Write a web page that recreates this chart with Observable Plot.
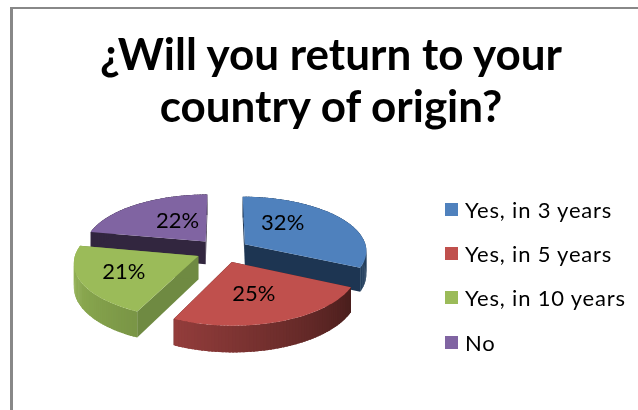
<!DOCTYPE html>
<html>
<head>
<meta charset="utf-8">
<script src="https://cdn.jsdelivr.net/npm/d3@7"></script>
<script src="https://cdn.jsdelivr.net/npm/@observablehq/plot@0.6"></script>
<style>
html,body{margin:0;padding:0;background:#fff;overflow:hidden}
#page{position:relative;width:638px;height:410px;overflow:hidden;font-family:Lato,"Open Sans",sans-serif;color:#000;filter:blur(.45px)}
#frame{position:absolute;left:10px;top:7px;right:-5px;bottom:-5px;border-left:3px solid #888;border-top:2px solid #888}
#title{position:absolute;left:12px;width:638px;top:27px;text-align:center;font-weight:700;font-size:44px;line-height:52px;margin:0}
#chart{position:absolute;left:0;top:150px}
#legend{position:absolute;left:445px;top:187px}
.row{display:flex;align-items:center;height:44.4px;font-size:22px;white-space:nowrap;letter-spacing:.8px}
.sw{width:13px;height:13px;margin-right:7px;flex:none}
</style>
</head>
<body>
<div id="page">
  <div id="frame"></div>
  <h1 id="title"></h1>
  <div id="chart"></div>
  <div id="legend"></div>
</div>
<script>
const titleLines = ["¿Will you return to your", "country of origin?"];
const categories = ["Yes, in 3 years", "Yes, in 5 years", "Yes, in 10 years", "No"];
const values = [32, 25, 21, 22];
const topColors = ["#4f81bd", "#c0504d", "#9bbb59", "#8064a2"];
const wallColors = ["#1d3552", "#4c1f1e", "#6f8a42", "#32263f"];
const rimFrom = ["#1d3552", "#4a1e1d", "#7a9646", "#32263f"];
const rimTo = ["#24405f", "#953e3c", "#9bbb59", "#32263f"];
const paintOrder = [3, 0, 2, 1];

// layout of the tilted, exploded pie
const W = 638, H = 230, cx = 222, cy = 100, rx = 122, ry = 54;
const explode = 0.22, persp = 0.11, depth = 0.43;
const labelOffset = [[0.31, 0.39], [0.18, -0.6], [-0.61, -0.3], [-0.23, 0.39]];

const arcs = d3.pie().sort(null)(values);
const proj = (X, Y, low) => {
  const s = 1 / (1 + persp * Y);
  return {x: X * s, y: (Y - (low ? depth : 0)) * s};
};
const rows = [];
const poly = (id, fill, pts) => pts.forEach(p => rows.push({id, fill, x: p.x, y: p.y}));
const labels = [];

for (const i of paintOrder) {
  const {startAngle: a0, endAngle: a1} = arcs[i];
  const mid = (a0 + a1) / 2;
  const ax = explode * Math.sin(mid), ay = explode * Math.cos(mid);
  const rim = (a, low) => proj(ax + Math.sin(a), ay + Math.cos(a), low);
  const n = Math.ceil((a1 - a0) * 40);
  const angle = k => a0 + (a1 - a0) * k / n;
  // radial walls
  [a0, a1].forEach((a, j) => poly(`w${i}${j}`, wallColors[i],
    [proj(ax, ay, false), rim(a, false), rim(a, true), proj(ax, ay, true)]));
  // outer wall, shaded step by step; each step overlaps the next so no seams show
  const shade = d3.interpolateRgb(rimFrom[i], rimTo[i]);
  for (let k = n - 1; k >= 0; k--) {
    const end = angle(Math.min(k + 1.6, n));
    poly(`r${i}_${k}`, d3.color(shade(k / n)).formatHex(),
      [rim(angle(k), false), rim(end, false), rim(end, true), rim(angle(k), true)]);
  }
  // top face
  poly(`t${i}`, topColors[i], [proj(ax, ay, false), ...d3.range(n + 1).map(k => rim(angle(k), false))]);
  const p = proj(ax, ay, false);
  labels.push({text: values[i] + "%", x: p.x + labelOffset[i][0], y: p.y + labelOffset[i][1]});
}

const chart = Plot.plot({
  width: W, height: H, margin: 0,
  x: {domain: [-1, 1], range: [cx - rx, cx + rx], axis: null},
  y: {domain: [-1, 1], range: [cy + ry, cy - ry], axis: null},
  color: {type: "identity"},
  marks: [
    Plot.line(rows, {x: "x", y: "y", z: "id", fill: "fill", stroke: "none", curve: "linear-closed"}),
    Plot.text(labels, {x: "x", y: "y", text: "text", fontSize: 22, fill: "#000", fontFamily: "Lato, sans-serif", textAnchor: "middle"})
  ]
});
document.getElementById("chart").append(chart);

document.getElementById("title").innerHTML = titleLines.join("<br>");
const legend = document.getElementById("legend");
categories.forEach((c, i) => {
  const row = document.createElement("div");
  row.className = "row";
  const sw = document.createElement("span");
  sw.className = "sw";
  sw.style.background = topColors[i];
  row.append(sw, document.createTextNode(c));
  legend.append(row);
});
</script>
</body>
</html>
